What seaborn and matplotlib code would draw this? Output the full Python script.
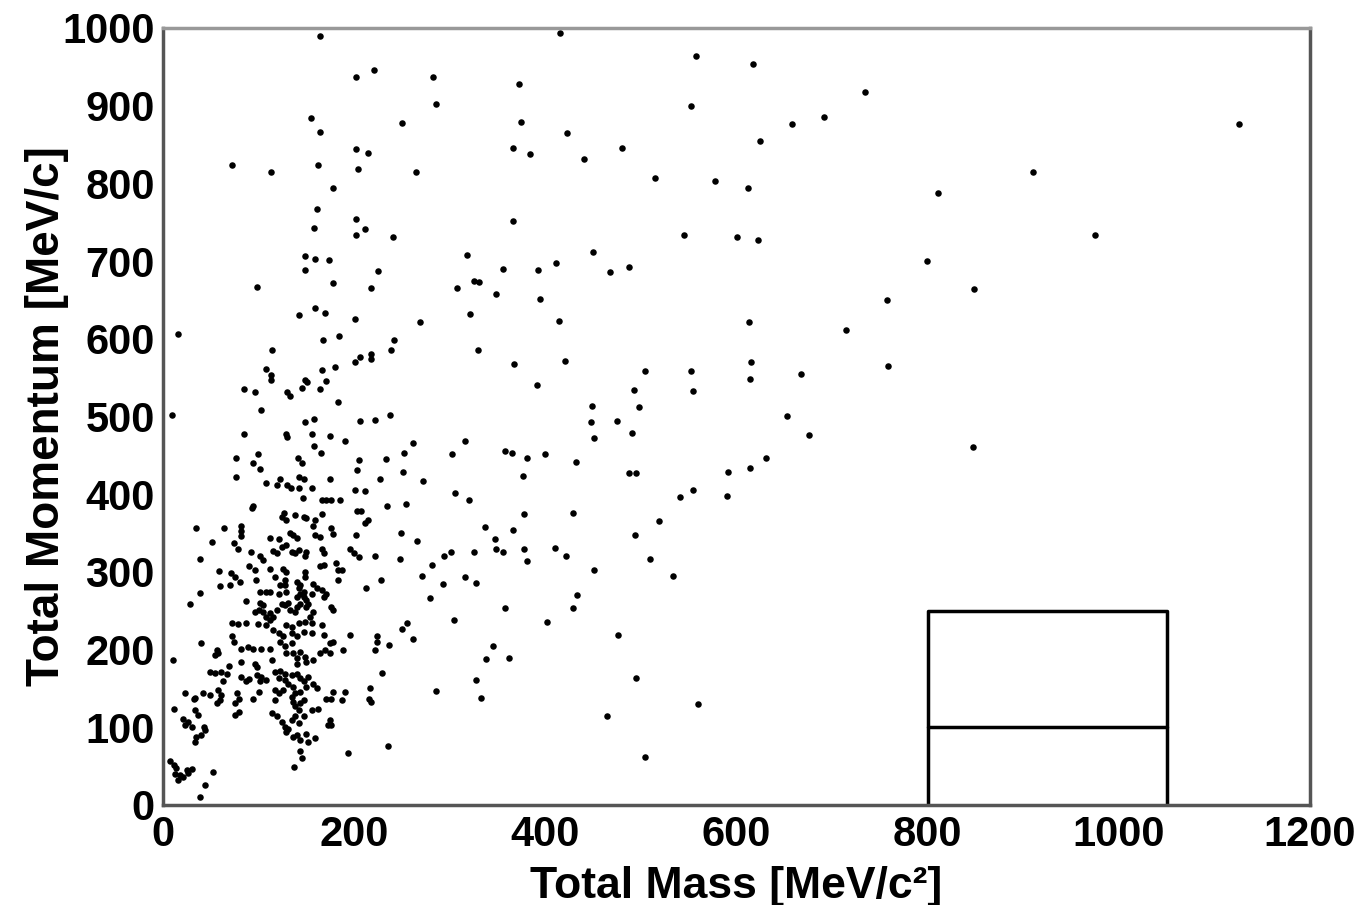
"""
Total momentum vs. total mass scatter (ROOT-style), redrawn with seaborn
"""

import pandas as pd
import matplotlib
matplotlib.use("Agg")
import matplotlib.pyplot as plt
from matplotlib.ticker import MultipleLocator
import seaborn as sns

# events: (mass MeV/c^2, momentum MeV/c)
upper_band = [
    (164, 990), (202, 937), (221, 946), (282, 937), (286, 902), (155, 884), (250, 878),
    (164, 866), (202, 844), (214, 839), (72, 824), (113, 815), (162, 823), (204, 819),
    (265, 814), (178, 794), (161, 767), (202, 754), (158, 743), (211, 741), (202, 734),
    (241, 731), (148, 706), (159, 703), (174, 702), (148, 688), (225, 687), (98, 667),
    (178, 672), (218, 665), (308, 665), (159, 640), (169, 633), (142, 630), (201, 626),
    (269, 622), (16, 606), (167, 599), (184, 604), (242, 599), (114, 585), (239, 586),
    (206, 576), (201, 570), (218, 581), (218, 574), (108, 561), (113, 553), (113, 547),
    (166, 560), (180, 564), (85, 536), (96, 532), (130, 531), (133, 527), (145, 537),
    (149, 547), (151, 544), (164, 536), (170, 546), (183, 518), (103, 508), (9, 502),
    (148, 493), (158, 497), (206, 494), (222, 496), (237, 502),
]

middle_band = [
    (85, 478), (129, 477), (130, 473), (156, 478), (175, 475), (190, 469), (158, 462),
    (165, 453), (99, 452), (76, 447), (94, 440), (101, 433), (141, 446), (145, 440),
    (205, 444), (203, 431), (233, 445), (76, 422), (108, 415), (119, 412), (122, 419),
    (130, 412), (134, 408), (142, 422), (147, 419), (142, 408), (156, 408), (175, 420),
    (227, 420), (201, 405), (211, 404), (146, 395), (166, 393), (171, 393), (176, 393),
    (185, 393), (94, 385), (93, 382), (234, 385), (127, 376), (124, 371), (129, 367),
    (138, 373), (147, 370), (150, 369), (166, 375), (159, 367), (157, 359), (203, 379),
    (207, 379), (214, 367), (211, 363), (35, 357), (64, 357), (82, 359), (82, 352),
    (82, 346), (133, 350), (136, 347), (140, 343), (159, 347), (164, 345), (176, 357),
    (178, 349), (202, 347), (51, 338), (74, 337), (78, 330), (112, 343), (121, 342),
    (115, 327), (119, 324), (124, 332), (129, 335), (135, 326), (138, 324), (142, 328),
    (150, 326), (149, 320), (166, 330), (168, 324), (196, 330), (200, 324), (205, 319),
    (222, 320), (92, 325), (101, 320), (105, 315), (39, 316), (90, 308), (96, 302),
    (112, 304), (126, 304), (129, 300), (148, 300), (149, 294), (164, 307), (168, 309),
    (181, 312), (183, 302), (187, 302), (59, 301), (71, 299), (75, 294), (80, 287),
    (97, 289), (117, 294), (128, 290), (122, 283), (128, 283), (140, 287), (143, 283),
    (142, 279), (147, 274), (157, 285), (161, 279), (156, 272), (183, 289), (212, 279),
    (228, 290), (39, 273), (60, 282), (70, 283), (101, 274), (108, 274), (112, 274),
    (121, 272), (129, 274), (143, 272), (140, 268), (147, 268), (150, 264), (166, 277),
    (170, 272), (168, 268), (28, 259), (87, 262), (101, 260), (105, 257), (100, 251),
    (105, 249), (112, 247), (119, 251), (124, 259), (128, 257), (131, 260), (133, 251),
    (140, 255), (143, 259), (138, 249), (150, 255), (152, 259), (157, 249), (154, 242),
    (178, 251), (176, 255), (96, 249), (108, 242), (115, 242),
]

lower_band = [
    (72, 234), (78, 233), (87, 234), (99, 233), (112, 238), (108, 232), (129, 232),
    (135, 229), (142, 234), (149, 236), (156, 234), (166, 232), (115, 225), (121, 221),
    (126, 217), (135, 221), (140, 217), (147, 223), (156, 221), (168, 219), (175, 208),
    (178, 210), (196, 219), (224, 217), (224, 210), (236, 206), (222, 199), (40, 209),
    (72, 217), (74, 210), (56, 199), (58, 195), (54, 193), (82, 201), (89, 203), (94, 201),
    (103, 201), (112, 201), (122, 210), (128, 204), (135, 208), (129, 195), (136, 195),
    (140, 189), (143, 197), (149, 191), (140, 182), (150, 184), (157, 187), (164, 195),
    (169, 199), (175, 195), (188, 199), (10, 186), (69, 179), (82, 184), (96, 182),
    (98, 178), (114, 186), (49, 171), (54, 170), (61, 171), (67, 169), (63, 159), (82, 165),
    (87, 159), (90, 162), (98, 167), (103, 165), (108, 161), (101, 159), (117, 171),
    (122, 173), (128, 169), (121, 163), (128, 161), (135, 167), (131, 156), (140, 169),
    (143, 163), (147, 159), (152, 165), (150, 152), (157, 156), (161, 150), (136, 152),
    (138, 144), (143, 146), (229, 170), (23, 144), (32, 137), (33, 138), (42, 144),
    (49, 142), (57, 148), (61, 142), (60, 135), (56, 131), (77, 144), (79, 137), (75, 131),
    (94, 137), (100, 146), (117, 148), (121, 144), (126, 148), (117, 135), (135, 139),
    (136, 133), (138, 127), (143, 131), (142, 122), (147, 135), (156, 122), (162, 124),
    (171, 137), (178, 146), (176, 137), (187, 135), (190, 146), (217, 150), (215, 137),
    (218, 133), (11, 123), (21, 111), (26, 107), (30, 101), (23, 103), (33, 122), (37, 116),
    (43, 101), (40, 90), (35, 88), (33, 81), (44, 97), (75, 116), (79, 120), (114, 118),
    (119, 114), (124, 107), (128, 101), (131, 98), (129, 94), (135, 109), (138, 114),
    (142, 105), (147, 114), (136, 88), (140, 90), (143, 84), (150, 92), (152, 81),
    (159, 86), (175, 109), (176, 103), (173, 103), (143, 69), (145, 60), (137, 49),
    (193, 67), (235, 76), (7, 56), (11, 51), (14, 47), (12, 40), (16, 32), (18, 39),
    (25, 45), (26, 41), (30, 46), (21, 36), (52, 42), (44, 26), (39, 10),
]

tail_high = [
    (415, 994), (558, 964), (617, 954), (372, 928), (552, 899), (375, 879), (423, 865),
    (658, 876), (625, 855), (366, 845), (384, 838), (440, 831), (480, 846), (515, 807),
    (578, 803), (612, 794), (366, 752), (545, 734), (601, 731), (622, 727), (318, 708),
    (450, 712), (356, 690), (392, 689), (411, 698), (468, 686), (487, 693), (325, 675),
    (331, 673), (348, 658), (394, 651), (321, 632), (414, 623), (613, 621), (330, 586),
    (367, 568), (421, 572), (615, 570), (614, 548), (504, 558), (552, 559), (667, 555),
    (391, 541), (493, 534), (554, 533), (449, 513), (498, 512), (448, 493), (475, 494),
    (653, 500),
]

tail_low = [
    (491, 479), (451, 472), (676, 476), (252, 453), (261, 466), (302, 452), (316, 468),
    (358, 455), (365, 453), (381, 446), (400, 452), (432, 442), (377, 423), (488, 427),
    (495, 427), (591, 428), (614, 434), (631, 447), (590, 398), (554, 406), (541, 396),
    (251, 428), (272, 417), (254, 387), (305, 401), (320, 392), (378, 374), (429, 376),
    (519, 366), (494, 348), (249, 350), (266, 340), (337, 358), (366, 354), (347, 342),
    (348, 330), (356, 326), (325, 326), (378, 329), (381, 314), (410, 331), (422, 321),
    (510, 316), (451, 302), (534, 295), (248, 317), (271, 295), (281, 309), (294, 320),
    (301, 325), (293, 285), (316, 294), (327, 286), (279, 266), (358, 253), (429, 254),
    (433, 270), (402, 236), (304, 238), (250, 227), (255, 234), (261, 213), (476, 219),
    (345, 204), (338, 188), (362, 189), (286, 147), (327, 161), (333, 138), (495, 163),
    (465, 115), (560, 130), (504, 62),
]

tail_far = [
    (734, 918), (692, 885), (1126, 877), (910, 814), (811, 788), (975, 734), (799, 700),
    (848, 664), (757, 650), (715, 611), (759, 565), (847, 461),
]

# signal box and the line splitting it
box_mass = [800, 800, 1050, 1050]
box_momentum = [0, 250, 250, 0]
split_mass = [800, 1050]
split_momentum = [100, 100]

events = pd.DataFrame(upper_band + middle_band + lower_band + tail_high + tail_low + tail_far,
                      columns=["mass", "momentum"])

sns.set_style("white")
plt.rcParams['font.family'] = ['Liberation Sans', 'DejaVu Sans']
plt.rcParams['font.weight'] = 'bold'
plt.rcParams['text.color'] = 'black'
plt.rcParams['axes.labelcolor'] = 'black'

fig = plt.figure(figsize=(13.61, 9.05), dpi=100)
ax = fig.add_axes([0.1198, 0.1105, 0.8427, 0.8586])

sns.scatterplot(data=events, x="mass", y="momentum", s=22, color="black",
                linewidth=0, ax=ax, legend=False)
ax.plot(box_mass, box_momentum, color="black", linewidth=2.5)
ax.plot(split_mass, split_momentum, color="black", linewidth=2.5)

ax.set_xlim(0, 1200)
ax.set_ylim(0, 1000)
ax.xaxis.set_major_locator(MultipleLocator(200))
ax.xaxis.set_minor_locator(MultipleLocator(50))
ax.yaxis.set_major_locator(MultipleLocator(100))
ax.yaxis.set_minor_locator(MultipleLocator(20))

ax.tick_params(axis='both', which='both', direction='in', top=False, right=False,
               colors='#333333', labelcolor='black')
ax.tick_params(axis='x', which='major', length=17, width=2, labelsize=30, pad=7)
ax.tick_params(axis='x', which='minor', length=9, width=2)
ax.tick_params(axis='y', which='major', length=25, width=2, labelsize=30, pad=6)
ax.tick_params(axis='y', which='minor', length=12, width=2)
for lbl in ax.get_xticklabels() + ax.get_yticklabels():
    lbl.set_fontweight('bold')

for side in ['top', 'bottom', 'left', 'right']:
    ax.spines[side].set_linewidth(2.5)
    ax.spines[side].set_color('#555555')
ax.spines['top'].set_color('#999999')

ax.set_xlabel("Total Mass [MeV/c²]", fontsize=32, fontweight='bold', color='black')
ax.set_ylabel("Total Momentum [MeV/c]", fontsize=33, fontweight='bold', color='black')
ax.xaxis.set_label_coords(0.5, -0.078)
ax.yaxis.set_label_coords(-0.082, 0.5)

plt.savefig("out.png", dpi=100)
